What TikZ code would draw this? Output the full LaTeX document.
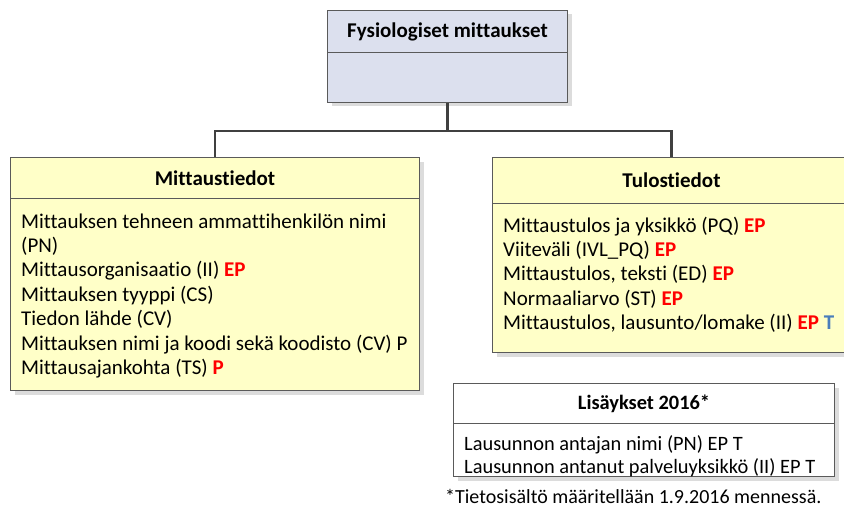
\documentclass[tikz,border=0pt]{standalone}
\usepackage{fontspec}
\setmainfont{Carlito}[Ligatures=NoCommon]
\usetikzlibrary{shadows,calc}
\definecolor{linegrey}{HTML}{404040}
\definecolor{boxborder}{HTML}{5A5A5A}
\definecolor{bluefill}{HTML}{DCE0EE}
\definecolor{yellowfill}{HTML}{FFFFC8}
\definecolor{shadowgrey}{HTML}{DCDCDC}
\definecolor{epred}{HTML}{FF0000}
\definecolor{tblue}{HTML}{4A7EBB}
\newcommand{\EP}{\textcolor{epred}{\textbf{EP}}}
\newcommand{\PP}{\textcolor{epred}{\textbf{P}}}
\newcommand{\TT}{\textcolor{tblue}{\textbf{T}}}
\begin{document}
\begin{tikzpicture}[x=1pt,y=-1pt,
  boxpart/.style={draw=boxborder, line width=1pt, inner sep=0pt, anchor=north west,
    general shadow={fill=shadowgrey, shadow xshift=4pt, shadow yshift=-4pt}},
  headtext/.style={font=\bfseries\fontsize{21}{25}\selectfont},
  smallhead/.style={font=\bfseries\fontsize{20.4}{24}\selectfont},
  bodytext/.style={inner sep=0pt, anchor=base west, align=left,
    font=\fontsize{21}{24.4}\selectfont},
  smalltext/.style={inner sep=0pt, anchor=base west, align=left,
    font=\fontsize{20.4}{23}\selectfont},
  connector/.style={draw=linegrey, line width=2.6pt}]
\useasboundingbox (0,0) rectangle (844,511);
\clip (0,0) rectangle (844,511);

% Fysiologiset mittaukset
\node[boxpart, fill=bluefill, headtext, minimum width=240pt, minimum height=42pt]
  (tophead) at (327,10) {Fysiologiset mittaukset};
\node[boxpart, fill=bluefill, minimum width=240pt, minimum height=50pt]
  (topbody) at (327,52) {};

% Mittaustiedot
\node[boxpart, fill=yellowfill, headtext, minimum width=409pt, minimum height=41pt]
  (lefthead) at (10,157) {Mittaustiedot};
\node[boxpart, fill=yellowfill, minimum width=409pt, minimum height=192pt]
  (leftbody) at (10,198) {};
% the base anchor of a multi-line node is its last line
\node[bodytext] (lefttext) at (21,374.4) {Mittauksen tehneen ammattihenkilön nimi\\
(PN)\\
Mittausorganisaatio (II) \EP\\
Mittauksen tyyppi (CS)\\
Tiedon lähde (CV)\\
Mittauksen nimi ja koodi sekä koodisto (CV) P\\
Mittausajankohta (TS) \PP};

% Tulostiedot
\node[boxpart, fill=yellowfill, headtext, minimum width=358pt, minimum height=46pt]
  (righthead) at (492,157) {Tulostiedot};
\node[boxpart, fill=yellowfill, minimum width=358pt, minimum height=149pt]
  (rightbody) at (492,203) {};
\node[bodytext] (righttext) at (503,329.6) {Mittaustulos ja yksikkö (PQ) \EP\\
Viiteväli (IVL\_PQ) \EP\\
Mittaustulos, teksti (ED) \EP\\
Normaaliarvo (ST) \EP\\
Mittaustulos, lausunto/lomake (II) \EP{} \TT};

% Lisäykset 2016
\node[boxpart, fill=white, smallhead, minimum width=381pt, minimum height=40pt]
  (addhead) at (453,383) {Lisäykset 2016*};
\node[boxpart, fill=white, minimum width=381pt, minimum height=53pt]
  (addbody) at (453,423) {};
\node[smalltext] (addtext) at (464,473) {Lausunnon antajan nimi (PN) EP T\\
Lausunnon antanut palveluyksikkö (II) EP T};

\node[smalltext, font=\fontsize{20}{22}\selectfont] (note) at (445,503)
  {*Tietosisältö määritellään 1.9.2016 mennessä.};

% connectors
\coordinate (junction) at ($(topbody.south)+(0,28)$);
\draw[connector] (topbody.south) -- (junction);
\draw[connector] (junction) -| (lefthead.north);
\draw[connector] (junction) -| (righthead.north);
\end{tikzpicture}
\end{document}
